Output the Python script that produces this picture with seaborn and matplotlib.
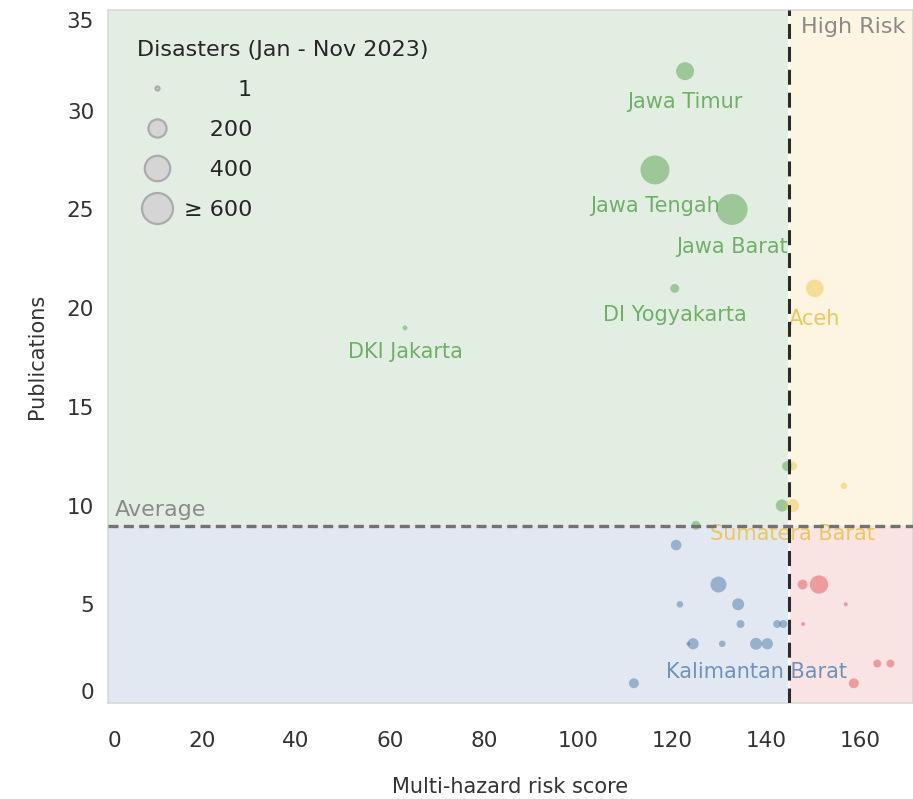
import numpy as np
import pandas as pd
import matplotlib
matplotlib.use('Agg')
import matplotlib.pyplot as plt
import matplotlib.transforms as mtransforms
from matplotlib.lines import Line2D
import seaborn as sns

# Provinces (only the labelled ones carry a name)
province = ['Jawa Timur', 'Jawa Tengah', 'Jawa Barat', 'DI Yogyakarta', 'DKI Jakarta', '', '', '',
            'Aceh', '', '', 'Sumatera Barat',
            '', '', '', '', '', '', '', '', '', '', 'Kalimantan Barat', '', '',
            '', '', '', '', '', '', '']
risk_score = [122.8, 116.4, 132.8, 120.6, 63.2, 144.5, 143.4, 125.1,
              150.4, 145.7, 156.6, 145.6,
              120.9, 129.9, 121.7, 134.1, 134.6, 142.4, 143.7, 123.5, 124.5, 130.7, 137.9, 140.3, 111.9,
              147.8, 151.3, 157.0, 147.9, 163.7, 166.5, 158.7]
publications = [32, 27, 25, 21, 19, 12, 10, 9,
                21, 12, 11, 10,
                8, 6, 5, 5, 4, 4, 4, 3, 3, 3, 3, 3, 1,
                6, 6, 5, 4, 2, 2, 1]
disasters = [195, 523, 640, 41, 6, 53, 86, 41,
             188, 41, 18, 106,
             62, 152, 18, 81, 31, 31, 31, 1, 71, 18, 81, 71, 53,
             53, 203, 1, 1, 31, 31, 53]

avg_publications = 8.97
high_risk_threshold = 144.9

legend_values = [1, 200, 400, 600]
legend_labels = ['\u2007 \u2009\u2007\u20071', '\u2007 \u2009200', '\u2007 \u2009400', '\u2265 600']

SIZE_MIN, SIZE_MAX = 8.3, 498.0


def marker_area(v):
    v = min(v, 600)
    return SIZE_MIN + (v - 1) / 599 * (SIZE_MAX - SIZE_MIN)


df = pd.DataFrame({'province': province, 'risk': risk_score,
                   'pubs': publications, 'disasters': disasters})
df['size_val'] = df['disasters'].clip(upper=600)
df['zone'] = np.where(df['pubs'] >= avg_publications,
                      np.where(df['risk'] >= high_risk_threshold, 'top_right', 'top_left'),
                      np.where(df['risk'] >= high_risk_threshold, 'bottom_right', 'bottom_left'))

point_colors = {'top_left': '#59A14F', 'top_right': '#EDC948',
                'bottom_left': '#4E79A7', 'bottom_right': '#E15759'}
label_colors = {'top_left': '#6FB068', 'top_right': '#EDC75A',
                'bottom_left': '#6F92BC', 'bottom_right': '#E57A7B'}
bg_colors = {'top_left': '#E3EEE2', 'top_right': '#FDF5E2',
             'bottom_left': '#E2E8F1', 'bottom_right': '#FAE3E3'}

sns.set_style('white')
plt.rcParams['font.family'] = ['DejaVu Sans']

fig = plt.figure(figsize=(9.13, 7.99), dpi=100)
ax = fig.add_axes([108 / 913, 1 - 703 / 799, (913 - 108) / 913, (703 - 10) / 799])

xmax, ymax = 171.3, 35.1
ax.set_xlim(0, xmax)
ax.set_ylim(0, ymax)

# quadrant backgrounds
ax.fill_between([0, high_risk_threshold], avg_publications, ymax, color=bg_colors['top_left'], lw=0, zorder=0)
ax.fill_between([high_risk_threshold, xmax], avg_publications, ymax, color=bg_colors['top_right'], lw=0, zorder=0)
ax.fill_between([0, high_risk_threshold], 0, avg_publications, color=bg_colors['bottom_left'], lw=0, zorder=0)
ax.fill_between([high_risk_threshold, xmax], 0, avg_publications, color=bg_colors['bottom_right'], lw=0, zorder=0)
ax.axvline(high_risk_threshold, color='white', lw=1.2, zorder=1)

sns.scatterplot(data=df, x='risk', y='pubs', hue='zone', palette=point_colors,
                size='size_val', sizes=(SIZE_MIN, SIZE_MAX), size_norm=(1, 600),
                alpha=0.5, linewidth=0, legend=False, zorder=2, ax=ax)

# province labels below their marks
for _, row in df[df['province'] != ''].iterrows():
    off = 15.8 + np.sqrt(marker_area(row['disasters'])) / 2
    ax.annotate(row['province'], (row['risk'], row['pubs']), xytext=(0, -off),
                textcoords='offset points', ha='center', va='center',
                fontsize=15, color=label_colors[row['zone']], zorder=2.5)

# reference lines
ax.axvline(high_risk_threshold, color='#2B2B2B', lw=2.2, ls=(0, (4.9, 2.6)), zorder=3)
ax.axhline(avg_publications, color='#727272', lw=2.4, ls=(0, (3.0, 1.6)), zorder=3)

blend_y = mtransforms.blended_transform_factory(ax.transAxes, ax.transData)
ax.annotate('Average', (0.009, avg_publications), xycoords=blend_y, xytext=(0, 4),
            textcoords='offset points', ha='left', va='bottom', fontsize=16, color='#8A8A8A')
blend_x = mtransforms.blended_transform_factory(ax.transData, ax.transAxes)
ax.annotate('High Risk', (high_risk_threshold, 1.0), xycoords=blend_x, xytext=(8.5, -5),
            textcoords='offset points', ha='left', va='top', fontsize=16, color='#8A8A8A')

# axes styling
ax.set_xticks(range(0, 161, 20))
ax.set_yticks(range(0, 36, 5))
ax.tick_params(length=0, labelsize=15.5, labelcolor='#333333')
ax.tick_params(axis='x', pad=20)
ax.tick_params(axis='y', pad=10)
for sp in ax.spines.values():
    sp.set_color('#D9D9D9')
    sp.set_linewidth(1.2)
ylabels = ax.get_yticklabels()
ylabels[0].set_va('bottom')
ylabels[-1].set_va('top')
xlabels = ax.get_xticklabels()
xlabels[0].set_ha('left')
xlabels[0].set_x(1.0)

ax.set_xlabel('Multi-hazard risk score', fontsize=15, color='#333333', va='top')
ax.xaxis.set_label_coords(0.5, -0.107)
ax.set_ylabel('Publications', fontsize=15, color='#333333')
ax.yaxis.set_label_coords(-0.076, 0.5)

# size legend
handles = [Line2D([], [], marker='o', ls='', ms=np.sqrt(marker_area(v)),
                  mfc='#D5D5D5', mec='#ABABAB', mew=1.6) for v in legend_values]
ax.legend(handles, legend_labels, title='Disasters (Jan - Nov 2023)', loc='upper left',
          bbox_to_anchor=(0.025, 0.970), borderaxespad=0, frameon=False, fontsize=16,
          title_fontsize=16, alignment='left', handlelength=1.8, handletextpad=0.3,
          labelspacing=0.9)

fig.savefig('out.png', dpi=100)
